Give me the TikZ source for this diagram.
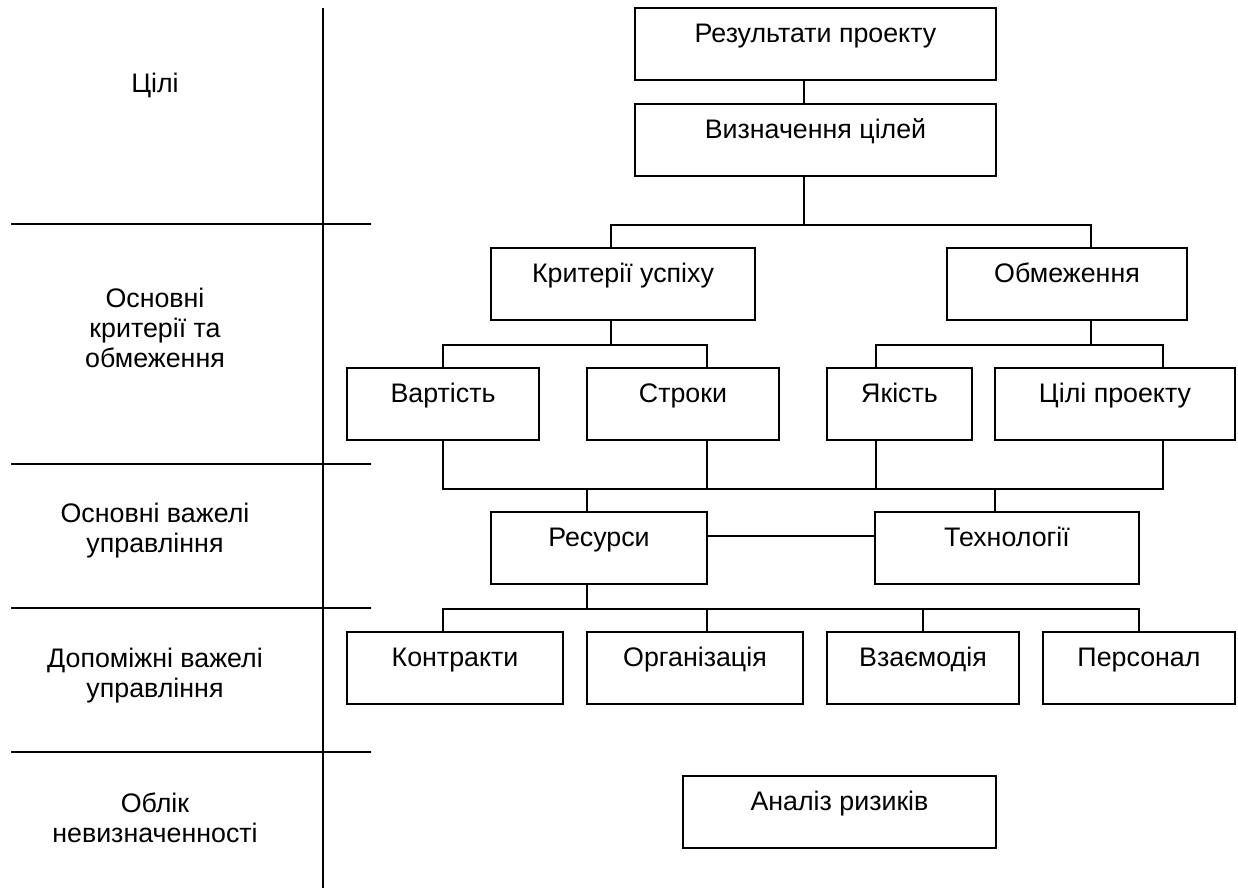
\documentclass[tikz,border=0pt]{standalone}
\usepackage{fontspec}
\setmainfont{Liberation Sans}

\begin{document}
\begin{tikzpicture}[x=0.5pt, y=-0.5pt, line width=1pt,
		font=\fontsize{13.4pt}{15pt}\selectfont,
		blok/.style={draw, rectangle, inner sep=0pt, minimum height=36pt,
			text height=6.5pt, text depth=7.5pt}]
		\useasboundingbox (0,0) rectangle (1238,892);
		% left column with the levels
		\draw (323,8) -- (323,888);
		\foreach \y in {224,464,608,752}
			\draw (11,\y) -- (371,\y);
		\node (c1) at (155,85) {Цілі};
		\node[align=center] (c2) at (155,328) {Основні\\критерії та\\обмеження};
		\node[align=center] (c3) at (155,531) {Основні важелі\\управління};
		\node[align=center] (c4) at (155,676) {Допоміжні важелі\\управління};
		\node[align=center] (c5) at (155,818) {Облік\\невизначенності};
		% blocks
		\node[blok, minimum width=180.5pt] (rez) at (815.5,44) {Результати проекту};
		\node[blok, minimum width=180.5pt] (viz) at (815.5,140) {Визначення цілей};
		\node[blok, minimum width=132pt] (krit) at (623,284) {Критерії успіху};
		\node[blok, minimum width=120pt] (obm) at (1067,284) {Обмеження};
		\node[blok, minimum width=96pt] (vart) at (443,404) {Вартість};
		\node[blok, minimum width=96pt] (stro) at (683,404) {Строки};
		\node[blok, minimum width=72.5pt] (yak) at (899.5,404) {Якість};
		\node[blok, minimum width=120pt] (cil) at (1115,404) {Цілі проекту};
		\node[blok, minimum width=108pt] (res) at (599,548) {Ресурси};
		\node[blok, minimum width=132pt] (tech) at (1007,548) {Технології};
		\node[blok, minimum width=108pt] (kon) at (455,668) {Контракти};
		\node[blok, minimum width=108pt] (org) at (695,668) {Організація};
		\node[blok, minimum width=96pt] (vza) at (923,668) {Взаємодія};
		\node[blok, minimum width=96pt] (per) at (1139,668) {Персонал};
		\node[blok, minimum width=156.5pt] (ana) at (839.5,812) {Аналіз ризиків};
		% connections
		\draw ([xshift=-6pt]rez.south) -- ([xshift=-6pt]viz.north);
		\coordinate (b1) at ([xshift=-6pt,yshift=-24pt]viz.south);
		\draw ([xshift=-6pt]viz.south) -- (b1);
		\draw ([xshift=-6pt]krit.north) |- (b1) -| ([xshift=12pt]obm.north);
		\coordinate (b2) at ([xshift=-6pt,yshift=-12pt]krit.south);
		\draw ([xshift=-6pt]krit.south) -- (b2);
		\draw (vart.north) |- (b2) -| ([xshift=12pt]stro.north);
		\coordinate (b3) at ([xshift=12pt,yshift=-12pt]obm.south);
		\draw ([xshift=12pt]obm.south) -- (b3);
		\draw ([xshift=-12pt]yak.north) |- (b3) -| ([xshift=24pt]cil.north);
		\coordinate (b4) at ([yshift=-24pt]vart.south);
		\draw (vart.south) -- (b4) -| ([xshift=24pt]cil.south);
		\draw ([xshift=12pt]stro.south) |- (b4);
		\draw ([xshift=-12pt]yak.south) |- (b4);
		\draw ([xshift=-6pt]res.north) |- (b4);
		\draw ([xshift=-6pt]tech.north) |- (b4);
		\draw ([yshift=6pt]res.east) -- ([yshift=6pt]tech.west);
		\coordinate (b5) at ([xshift=-6pt,yshift=-12pt]res.south);
		\draw ([xshift=-6pt]res.south) -- (b5);
		\draw ([xshift=-6pt]kon.north) |- (b5) -| (per.north);
		\draw ([xshift=6pt]org.north) |- (b5);
		\draw (vza.north) |- (b5);
	\end{tikzpicture}
\end{document}
